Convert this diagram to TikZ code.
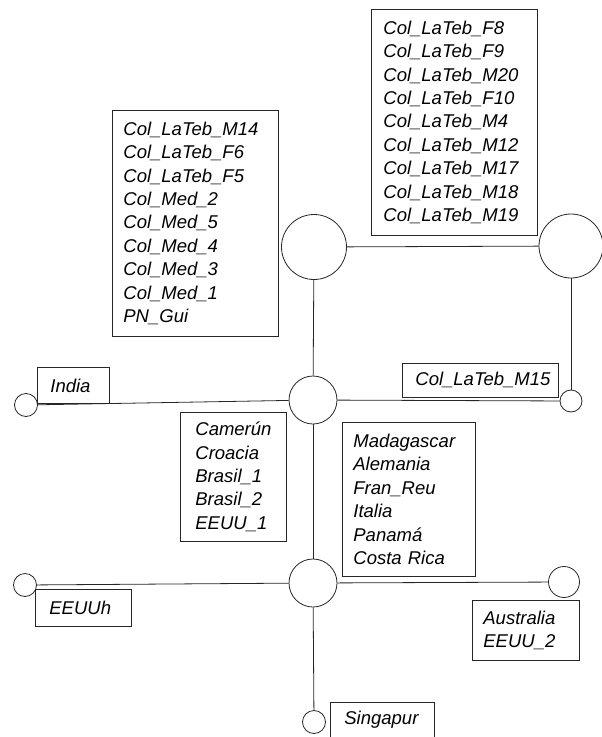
\documentclass[tikz,border=0pt]{standalone}
\usepackage{fontspec}
\setmainfont{Liberation Sans}
\hyphenpenalty=10000
\exhyphenpenalty=10000

\begin{document}
\begin{tikzpicture}[x=1pt, y=-1pt]
			\tikzstyle{Hub} 	= [circle, draw=black!85, line width=0.8pt, fill=white, inner sep=0pt]
			\tikzstyle{Group}	= [draw=black!85, line width=0.8pt, anchor=north west, align=left, inner ysep=0pt, font=\fontsize{18.5}{23.4}\selectfont\itshape]
			\tikzstyle{Edge}	= [black!85, line width=0.8pt]
			
			\useasboundingbox (0,0) rectangle (602,737);
			
			% circles
			\node (h1) at (314, 247) [Hub, minimum size=65pt] {};
			\node (h2) at (571, 246) [Hub, minimum size=64pt] {};
			\node (h3) at (313, 400) [Hub, minimum size=48pt] {};
			\node (h4) at (313, 583) [Hub, minimum size=48pt] {};
			\node (l1) at (26, 405) [Hub, minimum size=23pt] {};
			\node (l2) at (571, 401) [Hub, minimum size=22pt] {};
			\node (l3) at (25, 585) [Hub, minimum size=23pt] {};
			\node (l4) at (564, 582) [Hub, minimum size=31pt] {};
			\node (l5) at (314, 722) [Hub, minimum size=23pt] {};
			
			\draw [-] (h1) to (h2) [Edge];
			\draw [-] (h1) to (h3) [Edge];
			\draw [-] (h2) to (l2) [Edge];
			\draw [-] (h3) to (l1) [Edge];
			\draw [-] (h3) to (l2) [Edge];
			\draw [-] (h3) to (h4) [Edge];
			\draw [-] (h4) to (l3) [Edge];
			\draw [-] (h4) to (l4) [Edge];
			\draw [-] (h4) to (l5) [Edge];
			
			% labels
			\node (g1) at (112, 110) [Group, inner xsep=11pt, text width=144pt, minimum height=226pt]
				{Col\_LaTeb\_M14\\Col\_LaTeb\_F6\\Col\_LaTeb\_F5\\Col\_Med\_2\\Col\_Med\_5\\Col\_Med\_4\\Col\_Med\_3\\Col\_Med\_1\\PN\_Gui};
			\node (g2) at (371, 9) [Group, inner xsep=12pt, text width=142pt, minimum height=226pt]
				{Col\_LaTeb\_F8\\Col\_LaTeb\_F9\\Col\_LaTeb\_M20\\Col\_LaTeb\_F10\\Col\_LaTeb\_M4\\Col\_LaTeb\_M12\\Col\_LaTeb\_M17\\Col\_LaTeb\_M18\\Col\_LaTeb\_M19};
			\node (g3) at (37, 367) [Group, inner xsep=13pt, text width=46pt, minimum height=36pt] {India};
			\node (g4) at (402, 363) [Group, inner xsep=13pt, text width=130pt, minimum height=34pt] {Col\_LaTeb\_M15};
			\node (g5) at (180, 412) [Group, inner xsep=15pt, text width=76pt, minimum height=129pt]
				{Camerún\\Croacia\\Brasil\_1\\Brasil\_2\\EEUU\_1};
			\node (g6) at (342, 422) [Group, inner xsep=11pt, text width=111pt, minimum height=154pt]
				{Madagascar\\Alemania\\Fran\_Reu\\Italia\\Panamá\\Costa Rica};
			\node (g7) at (35, 589) [Group, inner xsep=14pt, text width=68pt, minimum height=37pt] {EEUUh};
			\node (g8) at (472, 600) [Group, inner xsep=11pt, text width=85pt, minimum height=60pt] {Australia\\EEUU\_2};
			\node (g9) at (330, 702) [Group, inner xsep=14pt, text width=76pt, minimum height=35pt] {Singapur};
		\end{tikzpicture}
\end{document}
